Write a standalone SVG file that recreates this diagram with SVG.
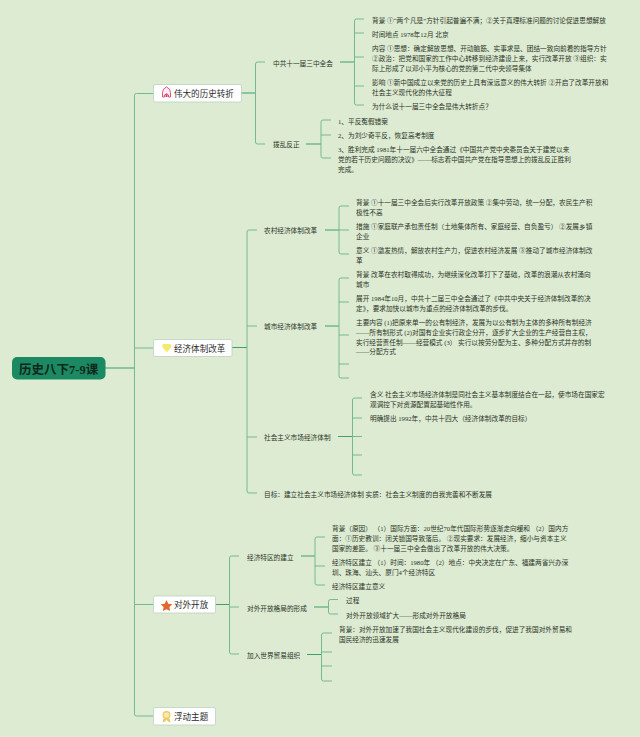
<svg xmlns="http://www.w3.org/2000/svg" width="640" height="737" viewBox="0 0 640 737">
<style>
text{font-family:"Liberation Serif","Noto Sans CJK SC",serif;fill:#2c3328}
.d{font-size:6.67px;transform:translateY(.5px)}
.s{font-size:6.67px;transform:translateY(.5px)}
.m{font-size:8.55px;fill:#2c2c2c}
.c{fill:none;stroke:#74b98f;stroke-width:1}
.t{fill:none;stroke:#3f9f70;stroke-width:1}
.b{fill:#fff;stroke:#b9d2c0;stroke-width:.8}
</style>
<rect width="640" height="737" fill="#dcebd2"/>
<g id="connectors">
<path class="t" d="M105 368H134.500"/>
<path class="c" d="M153 93.500H136.500Q134.500 93.500 134.500 95.500V714Q134.500 716 136.500 716H153M134.500 348H153M134.500 604.500H153"/>
<path class="t" d="M241 93H255.500"/>
<path class="c" d="M265 62H257.500Q255.500 62 255.500 64V142Q255.500 144 257.500 144H265"/>
<path class="t" d="M340 62H354.500"/>
<path class="c" d="M364 19H356.500Q354.500 19 354.500 21V103Q354.500 105 356.500 105H364M354.500 33H364M354.500 57H364M354.500 86H364"/>
<path class="t" d="M306 144H321"/>
<path class="c" d="M331 120H323Q321 120 321 122V156Q321 158 323 158H331M321 135H331"/>
<path class="t" d="M232 347.500H247"/>
<path class="c" d="M257 230H249Q247 230 247 232V491Q247 493 249 493H257M247 326H257M247 437H257"/>
<path class="t" d="M325 230H339"/>
<path class="c" d="M349 206H341Q339 206 339 208V252Q339 254 341 254H349M339 230H349"/>
<path class="t" d="M325 326H339"/>
<path class="c" d="M349 278H341Q339 278 339 280V376Q339 378 341 378H349M339 302H349M339 335H349M339 364H349"/>
<path class="t" d="M338 436.500H352.500"/>
<path class="c" d="M362 398H354.500Q352.500 398 352.500 400V473Q352.500 475 354.500 475H362M352.500 418H362M352.500 436.500H362M352.500 455H362"/>
<path class="t" d="M215.500 604.500H229.500"/>
<path class="c" d="M239 556H231.500Q229.500 556 229.500 558V652Q229.500 654 231.500 654H239M229.500 607H239"/>
<path class="t" d="M301 556H315"/>
<path class="c" d="M325 537H317Q315 537 315 539V583Q315 585 317 585H325M315 566H325"/>
<path class="t" d="M314 607H328.500"/>
<path class="c" d="M338 599.500H330.500Q328.500 599.500 328.500 601.500V612Q328.500 614 330.500 614H338"/>
<path class="t" d="M307 654.500H321.500"/>
<path class="c" d="M332 633H323.500Q321.500 633 321.500 635V679Q321.500 681 323.500 681H332M321.500 652H332M321.500 666H332"/>
</g>
<g id="root"><rect x="12" y="357" width="93.500" height="22.500" rx="5" fill="#1b8a63"/><text x="19" y="373.500" font-size="12.500" font-weight="700" style="fill:#10281c">历史八下7-9课</text></g>
<g id="n-turn">
<rect class="b" x="153.500" y="84.500" width="88" height="17.500" rx="1.500"/>
<path d="M162.500 97V92.500Q162.500 88.500 166.500 87 170.500 88.500 170.500 92.500V97H168.500V95Q166.500 92.500 164.500 95V97Z" fill="#fbeef2" stroke="#d8436f" stroke-width=".9"/>
<rect x="165.500" y="94" width="2" height="3" fill="#d8436f"/>
<text class="m" x="174" y="97">伟大的历史转折</text>
</g>
<g id="n-econ">
<rect class="b" x="153.500" y="339.500" width="78.500" height="17" rx="1.500"/>
<path d="M163 344H170.500L171.500 346.500 166.800 352.500 162 346.500Z" fill="#f3ec6a"/>
<text class="m" x="174" y="351.500">经济体制改革</text>
</g>
<g id="n-open">
<rect class="b" x="153.500" y="596" width="62" height="17" rx="1.500"/>
<path d="M166.500 600L168.300 603.700 172.300 604.300 169.400 607.100 170.100 611 166.500 609.200 162.900 611 163.600 607.100 160.700 604.300 164.700 603.700Z" fill="#e4662f"/>
<text class="m" x="174" y="608">对外开放</text>
</g>
<g id="n-float">
<rect class="b" x="153.500" y="707.500" width="62" height="17.500" rx="1.500"/>
<circle cx="166.500" cy="715" r="3.400" fill="#fbe9a6" stroke="#ecc860" stroke-width="1.200"/>
<path d="M163.500 718.500L162.500 722.500 165 721.500 166.500 719.500 168 721.500 170.500 722.500 169.500 718.500Z" fill="#ecc860"/>
<text class="m" x="174" y="719.500">浮动主题</text>
</g>
<g id="n-plenum"><text class="s" x="273" y="65.400">中共十一届三中全会</text>
<text class="d" x="372" y="22.400">背景 ①“两个凡是”方针引起普遍不满；②关于真理标准问题的讨论促进思想解放</text>
<text class="d" x="372" y="36.400">时间地点 1978年12月 北京</text>
<text class="d" x="372" y="50.400">内容 ①思想：确定解放思想、开动脑筋、实事求是、团结一致向前看的指导方针</text>
<text class="d" x="372" y="60.400">②政治：把党和国家的工作中心转移到经济建设上来，实行改革开放 ③组织：实</text>
<text class="d" x="372" y="70">际上形成了以邓小平为核心的党的第二代中央领导集体</text>
<text class="d" x="372" y="84.400">影响 ①新中国成立以来党的历史上具有深远意义的伟大转折 ②开启了改革开放和</text>
<text class="d" x="372" y="94.400">社会主义现代化的伟大征程</text>
<text class="d" x="372" y="108.400">为什么说十一届三中全会是伟大转折点？</text></g>
<g id="n-bofan"><text class="s" x="273" y="146.400">拨乱反正</text>
<text class="d" x="338" y="123">1、平反冤假错案</text>
<text class="d" x="338" y="137.400">2、为刘少奇平反，恢复高考制度</text>
<text class="d" x="338" y="151.400">3、胜利完成 1981年十一届六中全会通过《中国共产党中央委员会关于建党以来</text>
<text class="d" x="338" y="161.400">党的若干历史问题的决议》——标志着中国共产党在指导思想上的拨乱反正胜利</text>
<text class="d" x="338" y="171.400">完成。</text></g>
<g id="n-rural"><text class="s" x="264" y="232.400">农村经济体制改革</text>
<text class="d" x="356" y="204.400">背景 ①十一届三中全会后实行改革开放政策 ②集中劳动，统一分配，农民生产积</text>
<text class="d" x="356" y="214.400">极性不高</text>
<text class="d" x="356" y="228.400">措施 ①家庭联产承包责任制（土地集体所有、家庭经营、自负盈亏） ②发展乡镇</text>
<text class="d" x="356" y="238.400">企业</text>
<text class="d" x="356" y="252.400">意义 ①激发热情，解放农村生产力，促进农村经济发展 ③推动了城市经济体制改</text>
<text class="d" x="356" y="262">革</text></g>
<g id="n-city"><text class="s" x="264" y="328.400">城市经济体制改革</text>
<text class="d" x="356" y="276.400">背景 改革在农村取得成功，为继续深化改革打下了基础，改革的浪潮从农村涌向</text>
<text class="d" x="356" y="286.400">城市</text>
<text class="d" x="356" y="300.400">展开 1984年10月，中共十二届三中全会通过了《中共中央关于经济体制改革的决</text>
<text class="d" x="356" y="310.400">定》，要求加快以城市为重点的经济体制改革的步伐。</text>
<text class="d" x="356" y="324.400">主要内容 (1)把原来单一的公有制经济，发展为以公有制为主体的多种所有制经济</text>
<text class="d" x="356" y="334.400">——所有制形式 (2)对国有企业实行政企分开，逐步扩大企业的生产经营自主权，</text>
<text class="d" x="356" y="344.400">实行经营责任制——经营模式 (3） 实行以按劳分配为主、多种分配方式并存的制</text>
<text class="d" x="356" y="353.400">——分配方式</text></g>
<g id="n-market"><text class="s" x="264" y="439.400">社会主义市场经济体制</text>
<text class="d" x="370" y="396.400">含义 社会主义市场经济体制是同社会主义基本制度结合在一起，使市场在国家宏</text>
<text class="d" x="370" y="406.400">观调控下对资源配置起基础性作用。</text>
<text class="d" x="370" y="420.400">明确提出 1992年，中共十四大（经济体制改革的目标）</text></g>
<g id="n-goal"><text class="s" x="264" y="496.400">目标：建立社会主义市场经济体制 实质：社会主义制度的自我完善和不断发展</text></g>
<g id="n-sez"><text class="s" x="247" y="559.400">经济特区的建立</text>
<text class="d" x="332" y="530.400">背景（原因） （1）国际方面：20世纪70年代国际形势逐渐走向缓和 （2）国内方</text>
<text class="d" x="332" y="540.400">面：①历史教训：闭关锁国导致落后。 ②现实要求：发展经济，缩小与资本主义</text>
<text class="d" x="332" y="550">国家的差距。 ③十一届三中全会做出了改革开放的伟大决策。</text>
<text class="d" x="332" y="564.400">经济特区建立 （1）时间：1980年 （2）地点：中央决定在广东、福建两省兴办深</text>
<text class="d" x="332" y="574">圳、珠海、汕头、厦门4个经济特区</text>
<text class="d" x="332" y="588.400">经济特区建立意义</text></g>
<g id="n-pattern"><text class="s" x="247" y="610">对外开放格局的形成</text>
<text class="d" x="346" y="602.400">过程</text>
<text class="d" x="346" y="617">对外开放领域扩大——形成对外开放格局</text></g>
<g id="n-wto"><text class="s" x="247" y="657.400">加入世界贸易组织</text>
<text class="d" x="339" y="631.400">背景：对外开放加速了我国社会主义现代化建设的步伐，促进了我国对外贸易和</text>
<text class="d" x="339" y="641.400">国民经济的迅速发展</text></g>
</svg>
